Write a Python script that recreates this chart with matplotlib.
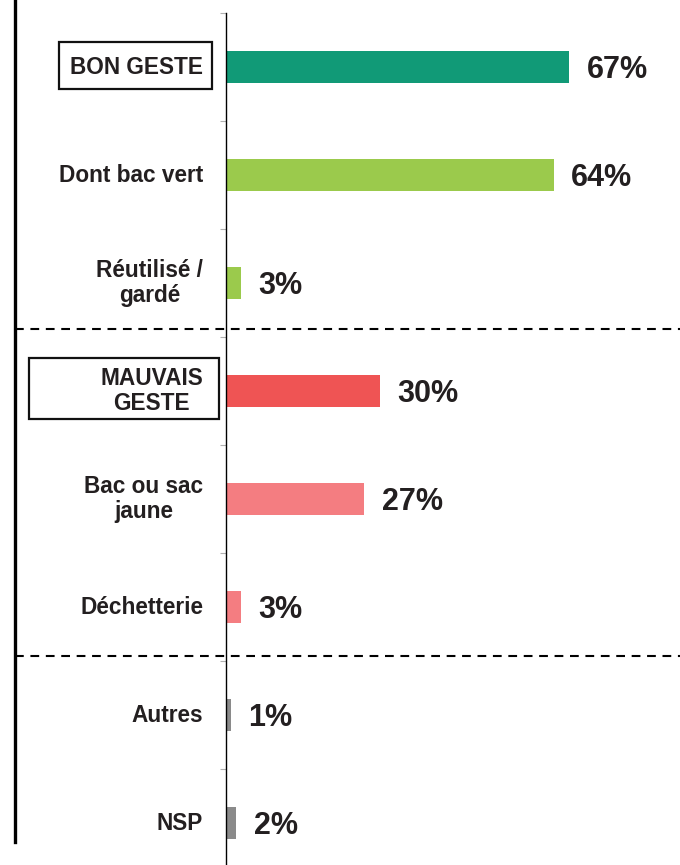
import matplotlib.pyplot as plt
from matplotlib.patches import Rectangle
from matplotlib.lines import Line2D
from matplotlib.transforms import blended_transform_factory

# data
categories = ["BON GESTE", "Dont bac vert", "Réutilisé /\ngardé",
              "MAUVAIS\nGESTE", "Bac ou sac\njaune", "Déchetterie",
              "Autres", "NSP"]
values = [67, 64, 3, 30, 27, 3, 1, 2]
colors = ["#119a77", "#9bca4c", "#9bca4c", "#ef5454", "#f47d81", "#f47d81",
          "#8a8a8a", "#8a8a8a"]

TXT = "#231f20"
W, H = 680, 865

plt.rcParams['font.family'] = ['Liberation Sans', 'DejaVu Sans']
fig = plt.figure(figsize=(W / 100, H / 100), dpi=100)

# axes: left edge at x=226 px, top at y=13 px, runs past the bottom of the image
ax = fig.add_axes([226 / W, (H - 877) / H, (W - 226) / W, 864 / H])
ypos = list(range(len(categories)))
ax.barh(ypos, values, height=0.29, color=colors)
ax.set_ylim(len(categories) - 0.5, -0.5)
ax.set_xlim(0, 454 / 5.12)

for s in ["top", "right", "bottom"]:
    ax.spines[s].set_visible(False)
ax.spines["left"].set_linewidth(1.0)
ax.set_xticks([])
ax.set_yticks([i - 0.5 for i in range(len(categories) + 1)])
ax.set_yticklabels([])
ax.tick_params(axis="y", length=4.5, width=0.8, color="#b0b0b0", direction="out")

# value labels
for y, v in zip(ypos, values):
    ax.annotate(f"{v}%", (v, y), xytext=(12.5, -2.5), textcoords="offset points",
                ha="left", va="center", fontsize=22, fontweight="bold", color=TXT)

# category labels
tr = blended_transform_factory(fig.transFigure, ax.transData)
for y, lab in zip(ypos, categories):
    ax.text(203 / W, y, lab, transform=tr, ha="right", va="center",
            multialignment="center", fontsize=16.3, fontweight="bold",
            color=TXT, linespacing=1.12)

# boxes around group headers (pixel layout)
def px_rect(x0, y0, x1, y1):
    fig.add_artist(Rectangle((x0 / W, 1 - y1 / H), (x1 - x0) / W, (y1 - y0) / H,
                             transform=fig.transFigure, fill=False,
                             edgecolor="#111111", linewidth=1.6))

px_rect(59, 42, 212, 89)
px_rect(29, 358, 219, 419)

# left thick rule and dashed separators
fig.add_artist(Line2D([15 / W, 15 / W], [1, 1 - 842 / H], transform=fig.transFigure,
                      color="black", linewidth=2.4))
for yy in [329, 656]:
    fig.add_artist(Line2D([15 / W, 1], [1 - yy / H, 1 - yy / H],
                          transform=fig.transFigure, color="black",
                          linewidth=1.5, dashes=(4.2, 3.2)))

fig.savefig("out.png", dpi=100)
